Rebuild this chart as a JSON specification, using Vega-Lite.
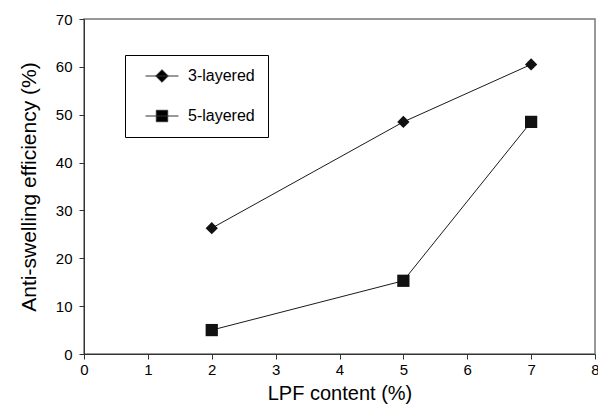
{
  "$schema": "https://vega.github.io/schema/vega-lite/v6.json",
  "width": 511,
  "height": 335,
  "autosize": {"type": "none"},
  "padding": {"left": 84, "top": 19, "right": 3, "bottom": 60},
  "background": "white",
  "config": {
    "font": "Liberation Sans",
    "view": {"stroke": "#777777", "strokeWidth": 1.5},
    "axis": {"grid": false, "labelColor": "black", "titleColor": "black", "labelFont": "Liberation Sans", "titleFont": "Liberation Sans", "titleFontWeight": "normal", "domainColor": "#333333", "tickColor": "#333333"}
  },
  "data": {
    "values": [
      {"series": "3-layered", "lpf": 2, "eff": 26.3},
      {"series": "3-layered", "lpf": 5, "eff": 48.5},
      {"series": "3-layered", "lpf": 7, "eff": 60.5},
      {"series": "5-layered", "lpf": 2, "eff": 5.0},
      {"series": "5-layered", "lpf": 5, "eff": 15.3},
      {"series": "5-layered", "lpf": 7, "eff": 48.5}
    ]
  },
  "encoding": {
    "x": {
      "field": "lpf", "type": "quantitative",
      "scale": {"domain": [0, 8], "nice": false},
      "axis": {"values": [0,1,2,3,4,5,6,7,8], "title": "LPF content (%)", "labelFontSize": 15, "titleFontSize": 20, "tickSize": 5, "labelPadding": 3, "titlePadding": 6, "labelFlush": false}
    },
    "y": {
      "field": "eff", "type": "quantitative",
      "scale": {"domain": [0, 70], "nice": false},
      "axis": {"values": [0,10,20,30,40,50,60,70], "title": "Anti-swelling efficiency (%)", "labelFontSize": 15, "titleFontSize": 21, "tickSize": 5, "labelPadding": 7, "titlePadding": 16, "labelFlush": false}
    }
  },
  "layer": [
    {
      "mark": {"type": "line", "color": "#1a1a1a", "strokeWidth": 1},
      "encoding": {"detail": {"field": "series"}}
    },
    {
      "mark": {"type": "point", "filled": true, "color": "#111111", "opacity": 1, "size": 150},
      "encoding": {
        "shape": {
          "field": "series", "type": "nominal",
          "scale": {"domain": ["3-layered", "5-layered"], "range": ["diamond", "square"]},
          "legend": null
        }
      }
    },
    {
      "mark": {"type": "point", "fill": "black", "stroke": "#333333", "strokeWidth": 1, "opacity": 0, "size": 144},
      "encoding": {
        "shape": {
          "field": "series", "type": "nominal",
          "scale": {"domain": ["3-layered", "5-layered"], "range": ["M-2.75,0L2.75,0M0,-1.05L1.05,0L0,1.05L-1.05,0Z", "M-2.75,0L2.75,0M-0.95,-0.95L0.95,-0.95L0.95,0.95L-0.95,0.95Z"]},
          "legend": {
            "title": null,
            "orient": "none",
            "legendX": 41,
            "legendY": 36,
            "padding": 13,
            "rowPadding": 23,
            "strokeColor": "black",
            "fillColor": "white",
            "cornerRadius": 0,
            "labelFontSize": 16,
            "labelColor": "black",
            "labelFont": "Liberation Sans",
            "symbolSize": 144,
            "symbolStrokeWidth": 1,
            "symbolOpacity": 1,
            "symbolOffset": 16,
            "labelOffset": 18
          }
        }
      }
    }
  ],
  "resolve": {"scale": {"shape": "independent"}}
}
